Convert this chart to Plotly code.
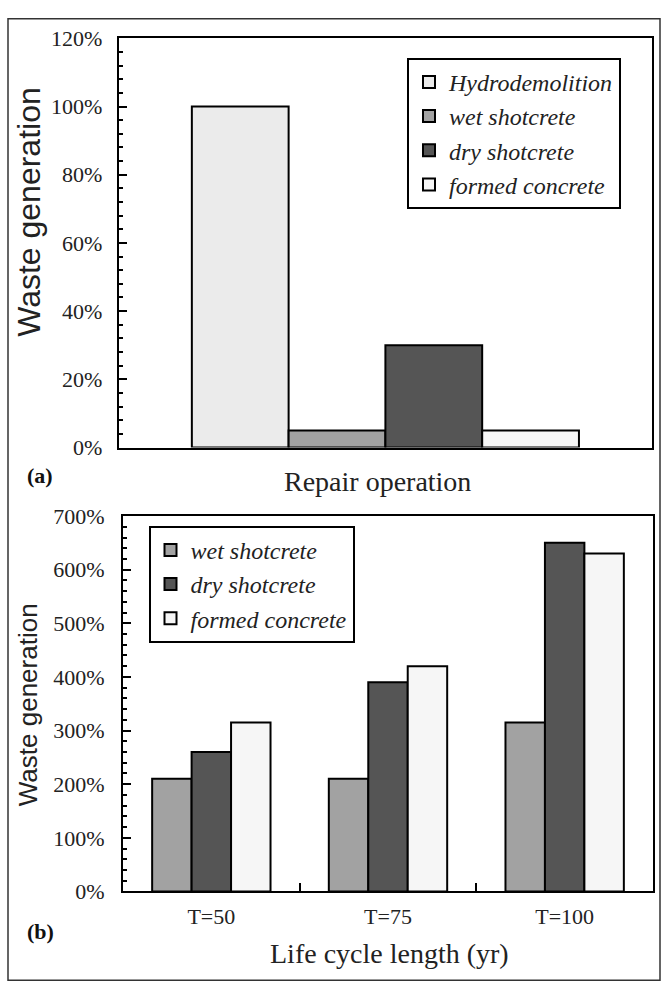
import plotly.graph_objects as go

W, H = 665, 999

# ---- data ----
top_category = ["Repair operation"]
top_series = ["Hydrodemolition", "wet shotcrete", "dry shotcrete", "formed concrete"]
top_values = [100, 5, 30, 5]

bottom_categories = ["T=50", "T=75", "T=100"]
bottom_series = ["wet shotcrete", "dry shotcrete", "formed concrete"]
wet_shotcrete = [210, 210, 315]
dry_shotcrete = [260, 390, 650]
formed_concrete = [315, 420, 630]

top_tickvals = [0, 20, 40, 60, 80, 100, 120]
top_ticktext = ["0%", "20%", "40%", "60%", "80%", "100%", "120%"]
bottom_tickvals = [0, 100, 200, 300, 400, 500, 600, 700]
bottom_ticktext = ["0%", "100%", "200%", "300%", "400%", "500%", "600%", "700%"]

# ---- styles ----
top_colors = ["#ebebeb", "#a2a2a2", "#555555", "#f6f6f6"]
bottom_colors = ["#a2a2a2", "#555555", "#f6f6f6"]
SERIF = "Liberation Serif"
SANS = "Liberation Sans"

fig = go.Figure()

top_w = 0.726 / 4
for i, (name, val, col) in enumerate(zip(top_series, top_values, top_colors)):
    fig.add_trace(go.Bar(
        x=top_category, y=[val], name=name,
        marker=dict(color=col, line=dict(color="black", width=2)),
        width=top_w, offset=-0.363 + i * top_w,
        xaxis="x", yaxis="y", legend="legend", legendgroup="a%d" % i,
    ))

for i, (name, vals, col) in enumerate(zip(bottom_series,
                                          [wet_shotcrete, dry_shotcrete, formed_concrete],
                                          bottom_colors)):
    fig.add_trace(go.Bar(
        x=bottom_categories, y=vals, name=name,
        marker=dict(color=col, line=dict(color="black", width=2)),
        xaxis="x2", yaxis="y2", legend="legend2", legendgroup="b%d" % i,
    ))

axis_common = dict(showline=True, linecolor="black", linewidth=2, mirror=True,
                   showgrid=False, zeroline=False)
tickfont = dict(family=SERIF, size=22, color="#222")
legfont = dict(family=SERIF, size=24, style="italic", color="#222")

fig.update_layout(
    width=W, height=H,
    margin=dict(l=0, r=0, t=0, b=0),
    paper_bgcolor="white", plot_bgcolor="white",
    font=dict(family=SERIF, color="#222"),
    barmode="group", bargap=0.33, bargroupgap=0,
    showlegend=True,
    xaxis=dict(domain=[118.8 / W, 652 / W], anchor="y", type="category",
               range=[-0.5, 0.5], showticklabels=False, ticks="", **axis_common),
    yaxis=dict(domain=[1 - 446.7 / H, 1 - 27 / H], anchor="x", range=[0, 120],
               tickmode="array", tickvals=top_tickvals, ticktext=top_ticktext,
               ticks="inside", ticklen=8, tickwidth=2, tickcolor="black",
               tickfont=tickfont, ticklabelstandoff=10,
               minor=dict(dtick=4, ticks="inside", ticklen=4, tickwidth=2,
                          tickcolor="black"),
               **axis_common),
    xaxis2=dict(domain=[123 / W, 653 / W], anchor="y2", type="category",
                range=[-0.5, 2.5], ticks="inside", tickson="boundaries",
                ticklen=8, tickwidth=2, tickcolor="black", tickfont=tickfont,
                ticklabelstandoff=4, **axis_common),
    yaxis2=dict(domain=[1 - 902 / H, 1 - 517 / H], anchor="x2", range=[0, 700],
                tickmode="array", tickvals=bottom_tickvals, ticktext=bottom_ticktext,
                ticks="inside", ticklen=8, tickwidth=2, tickcolor="black",
                tickfont=tickfont, ticklabelstandoff=12,
                minor=dict(dtick=20, ticks="inside", ticklen=4, tickwidth=2,
                           tickcolor="black"),
                **axis_common),
    legend=dict(x=407 / W, y=1 - 47 / H, xanchor="left", yanchor="top",
                bgcolor="white", bordercolor="black", borderwidth=2,
                font=legfont, tracegroupgap=11, itemwidth=30, traceorder="normal"),
    legend2=dict(x=148.5 / W, y=1 - 527 / H, xanchor="left", yanchor="top",
                 bgcolor="white", bordercolor="black", borderwidth=2,
                 font=legfont, tracegroupgap=11, itemwidth=30, traceorder="normal"),
    shapes=[dict(type="rect", xref="paper", yref="paper",
                 x0=8 / W, x1=660 / W, y0=1 - 993 / H, y1=1 - 7 / H,
                 line=dict(color="#333", width=1.5))],
    annotations=[
        dict(text="Waste generation", x=29 / W, y=1 - 205 / H, xref="paper", yref="paper",
             textangle=-90, showarrow=False, xanchor="center", yanchor="middle",
             font=dict(family=SANS, size=32, color="#222")),
        dict(text="Waste generation", x=28 / W, y=1 - 711 / H, xref="paper", yref="paper",
             textangle=-90, showarrow=False, xanchor="center", yanchor="middle",
             font=dict(family=SANS, size=26, color="#222")),
        dict(text="Repair operation", x=377.6 / W, y=1 - 481.7 / H, xref="paper", yref="paper",
             showarrow=False, xanchor="center", yanchor="middle",
             font=dict(family=SERIF, size=28, color="#222")),
        dict(text="Life cycle length (yr)", x=389 / W, y=1 - 966 / H, xref="paper", yref="paper",
             showarrow=False, xanchor="center", yanchor="middle",
             font=dict(family=SERIF, size=28, color="#222")),
        dict(text="<b>(a)</b>", x=40 / W, y=1 - 475 / H, xref="paper", yref="paper",
             showarrow=False, xanchor="center", yanchor="middle",
             font=dict(family=SERIF, size=22, color="#111")),
        dict(text="<b>(b)</b>", x=40 / W, y=1 - 943 / H, xref="paper", yref="paper",
             showarrow=False, xanchor="center", yanchor="middle",
             font=dict(family=SERIF, size=22, color="#111")),
    ],
)

fig.write_html(
    "out.html",
    config={"displayModeBar": False},
    post_script="document.body.style.margin='0';document.body.style.overflow='hidden';",
)
